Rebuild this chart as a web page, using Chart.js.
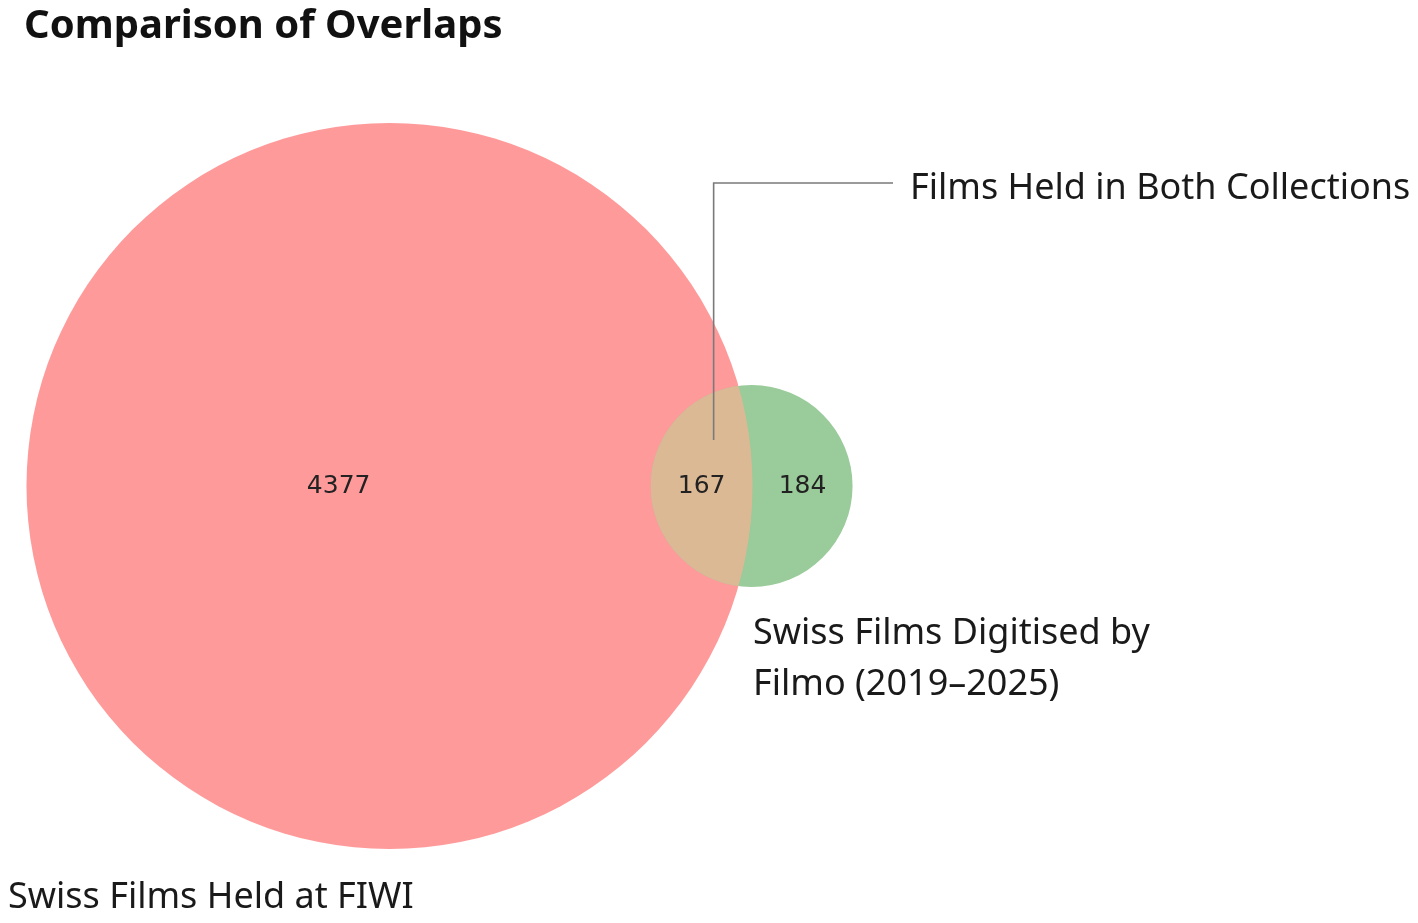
<!DOCTYPE html>
<html>
<head>
<meta charset="utf-8">
<title>Comparison of Overlaps</title>
<script src="https://cdn.jsdelivr.net/npm/chart.js@4.4.1/dist/chart.umd.min.js"></script>
<style>
  html, body { margin: 0; padding: 0; background: #fff; }
  #wrap { width: 1418px; height: 923px; position: relative; }
</style>
</head>
<body>
<div id="wrap"><canvas id="myChart"></canvas></div>
<script>
// venn data: set names and region counts
var setNames = ['Swiss Films Held at FIWI', 'Swiss Films Digitised by\nFilmo (2019\u20132025)'];
var onlyA = 4377;
var onlyB = 184;
var both = 167;
var setColors = ['#ff9a9a', '#9acb9a'];
var overlapColor = '#dcb995';
var overlapNote = 'Films Held in Both Collections';

// circle sizes from set totals (area proportional)
var sizeA = onlyA + both;
var sizeB = onlyB + both;
var rA = Math.sqrt(sizeA / Math.PI);
var rB = Math.sqrt(sizeB / Math.PI);

function lensArea(R, r, d) {
    var a = r * r * Math.acos((d * d + r * r - R * R) / (2 * d * r));
    var b = R * R * Math.acos((d * d + R * R - r * r) / (2 * d * R));
    var c = 0.5 * Math.sqrt((-d + r + R) * (d + r - R) * (d - r + R) * (d + r + R));
    return a + b - c;
}
// find distance between centres giving the overlap area
var lo = rA - rB + 1e-9, hi = rA + rB - 1e-9;
for (var i = 0; i < 100; i++) {
    var mid = (lo + hi) / 2;
    if (lensArea(rA, rB, mid) > both) lo = mid; else hi = mid;
}
var dist = (lo + hi) / 2;

// label positions along the centre line
var labelA = (-rA + dist - rB) / 2;
var labelAB = (dist - rB + rA) / 2;
var labelB = (rA + dist + rB) / 2;

// view window (data units), big circle centred at 0,0
var k = 9.545;
var W = 1418, H = 923;
var xMin = -389.5 / k, xMax = (W - 389.5) / k;
var yMax = 486 / k, yMin = -(H - 486) / k;

function px(chart, v) {
    var s = chart.scales.x;
    return s.getPixelForValue(v) - s.getPixelForValue(0);
}

var vennText = {
    id: 'vennText',
    afterDatasetsDraw: function (chart) {
        var ctx = chart.ctx;
        var x = chart.scales.x, y = chart.scales.y;
        var cxA = x.getPixelForValue(0), cyA = y.getPixelForValue(0);
        var cxB = x.getPixelForValue(dist);
        // overlap lens
        ctx.save();
        ctx.beginPath();
        ctx.arc(cxA, cyA, px(chart, rA), 0, Math.PI * 2);
        ctx.clip();
        ctx.beginPath();
        ctx.arc(cxB, cyA, px(chart, rB), 0, Math.PI * 2);
        ctx.fillStyle = overlapColor;
        ctx.fill();
        ctx.restore();

        ctx.save();
        // region counts
        ctx.font = '25px "DejaVu Sans"';
        ctx.fillStyle = '#222';
        ctx.textAlign = 'center';
        ctx.textBaseline = 'middle';
        ctx.fillText(String(onlyA), x.getPixelForValue(labelA), cyA);
        ctx.fillText(String(both), x.getPixelForValue(labelAB), cyA);
        ctx.fillText(String(onlyB), x.getPixelForValue(labelB), cyA);

        // set names
        ctx.font = '36px "Noto Sans"';
        ctx.fillStyle = '#1a1a1a';
        ctx.textAlign = 'left';
        ctx.textBaseline = 'alphabetic';
        ctx.fillText(setNames[0], 8, 908);
        var lines = setNames[1].split('\n');
        for (var j = 0; j < lines.length; j++) {
            ctx.fillText(lines[j], 753, 644 + j * 51);
        }

        // annotation for the overlap
        var ax = x.getPixelForValue(labelAB) + 12;
        ctx.strokeStyle = '#7a7a7a';
        ctx.lineWidth = 1.6;
        ctx.beginPath();
        ctx.moveTo(ax, cyA - 46);
        ctx.lineTo(ax, 183);
        ctx.lineTo(893, 183);
        ctx.stroke();
        ctx.textBaseline = 'middle';
        ctx.fillText(overlapNote, 910, 189);

        // title
        ctx.font = 'bold 40px "Noto Sans"';
        ctx.fillStyle = '#111';
        ctx.textBaseline = 'alphabetic';
        ctx.fillText('Comparison of Overlaps', 24, 38);
        ctx.restore();
    }
};

var chartdata = {
    datasets: [{
        data: [
            { x: 0, y: 0, rad: rA },
            { x: dist, y: 0, rad: rB }
        ],
        showLine: false,
        backgroundColor: setColors,
        hoverBackgroundColor: setColors,
        borderWidth: 0,
        hoverBorderWidth: 0,
        // radius in pixels taken from the x scale
        radius: function (c) { return c.raw ? px(c.chart, c.raw.rad) : 0; },
        hoverRadius: 0
    }]
};

var graphTarget = document.getElementById('myChart');
var vennChart = new Chart(graphTarget, {
    type: 'scatter',
    data: chartdata,
    plugins: [vennText],
    options: {
        responsive: true,
        maintainAspectRatio: false,
        animation: false,
        events: [],
        layout: { padding: 0 },
        plugins: { legend: { display: false }, tooltip: { enabled: false }, title: { display: false } },
        scales: {
            x: { type: 'linear', min: xMin, max: xMax, display: false },
            y: { type: 'linear', min: yMin, max: yMax, display: false }
        }
    }
});
</script>
</body>
</html>
